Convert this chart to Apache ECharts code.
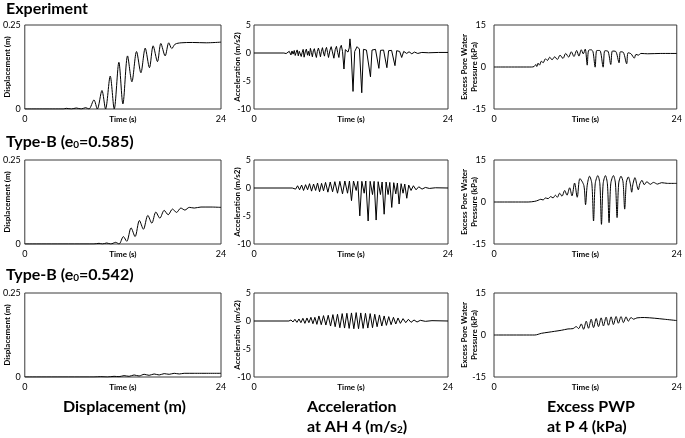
<!DOCTYPE html>
<html><head><meta charset="utf-8">
<script src="https://cdn.jsdelivr.net/npm/echarts@6/dist/echarts.min.js"></script>
<style>html,body{margin:0;padding:0;background:#fff}#c{width:685px;height:438px}</style>
</head><body><div id="c"></div>
<script>
// ---- tick ranges ----
const timeRange = [0, 24];
const dispRange = [0, 0.25];
const accRange = [-10, 5];
const pwpRange = [-15, 15];

// ---- row / column labels ----
const rowTitles = ['Experiment', 'Type-B (e|0|=0.585)', 'Type-B (e|0|=0.542)'];
const colTitles = ['Displacement (m)', 'Acceleration|at AH 4 (m/s|2|)', 'Excess PWP|at P 4 (kPa)'];
const yNames = ['Displacement (m)', 'Acceleration (m/s2)', 'Excess Pore Water\nPressure (kPa)'];
const xName = 'Time (s)';

// ---- data: [time (s), value] ----
const expDisp = [[0,0],[4.7,0],[5.08,0.002],[5.7,0],[6.3,0.003],[6.9,0],[7.44,0.004],[7.85,0],[8.46,0.027],[8.87,0],[9.44,0.055],[9.88,0],[10.45,0.098],[10.94,0],[11.51,0.139],[12.0,0.015],[12.57,0.158],[13.1,0.081],[13.67,0.171],[14.2,0.108],[14.73,0.181],[15.25,0.123],[15.7,0.188],[16.23,0.141],[16.64,0.195],[17.17,0.158],[17.61,0.197],[17.98,0.18],[18.39,0.193],[19.12,0.197],[20.5,0.198],[22.2,0.197],[24,0.199]];
const expAcc = [[0,0],[3.7,0],[3.86,0.12],[3.98,-0.1],[4.1,0.22],[4.22,-0.18],[4.36,0.3],[4.48,-0.05],[4.57,-0.35],[4.7,0.36],[4.84,-0.2],[4.98,0.45],[5.1,-0.44],[5.22,0.1],[5.34,0.55],[5.48,-0.5],[5.6,0.3],[5.72,0.62],[5.84,-0.62],[5.96,0.1],[6.08,0.65],[6.2,-0.75],[6.34,0.2],[6.48,0.7],[6.62,-0.4],[6.73,0.3],[6.86,-0.5],[6.98,0.83],[7.1,0.1],[7.22,-0.68],[7.34,0.4],[7.47,0.77],[7.6,-0.2],[7.72,-0.8],[7.84,0.3],[7.97,0.89],[8.1,0.2],[8.22,-0.68],[8.34,0.3],[8.47,0.95],[8.6,0.0],[8.72,-0.56],[8.85,0.6],[8.97,1.0],[9.1,0.1],[9.22,-0.8],[9.4,0.5],[9.55,1.13],[9.7,0.2],[9.88,-0.93],[10.05,0.6],[10.2,1.19],[10.35,0.1],[10.5,-0.8],[10.65,0.9],[10.8,1.37],[10.95,0.3],[11.13,-2.86],[11.3,0.6],[11.45,0.3],[11.63,0.16],[11.78,0.9],[11.87,2.52],[12.0,0.59],[12.25,-6.86],[12.46,0.28],[12.75,1.13],[13.04,0.71],[13.33,-7.1],[13.54,0.65],[13.91,0.53],[14.41,-4.25],[14.6,0.53],[15.03,0.65],[15.45,-2.74],[15.65,0.47],[16.03,0.53],[16.44,-2.62],[16.65,0.41],[17.02,0.47],[17.44,-2.26],[17.65,0.41],[18.02,0.28],[18.27,-0.8],[18.52,0.28],[18.89,-0.08],[19.18,0.22],[19.52,-0.14],[19.85,0.16],[20.26,-0.08],[20.76,0.1],[21.6,0.04],[22.84,0.1],[24,0.1]];
const expPwp = [[0,0],[4.92,0],[5.27,0.18],[5.49,0.9],[5.62,0.18],[5.79,1.37],[5.97,0.66],[6.23,2.09],[6.45,1.5],[6.75,2.93],[7.01,2.33],[7.32,3.5],[7.62,2.57],[7.97,3.64],[8.32,2.69],[8.67,4.24],[9.06,3.05],[9.41,4.84],[9.8,3.53],[10.15,5.44],[10.5,3.76],[10.85,5.9],[11.15,3.9],[11.46,6.15],[11.72,4.7],[11.98,6.4],[12.24,0.66],[12.41,5.9],[12.76,6.15],[13.0,5.4],[13.28,-0.06],[13.5,5.9],[13.89,5.9],[14.33,-0.06],[14.55,5.8],[14.94,5.7],[15.33,0.9],[15.55,5.7],[15.98,5.56],[16.42,1.5],[16.6,5.44],[16.99,5.2],[17.42,1.14],[17.6,5.08],[17.99,4.72],[18.42,3.17],[18.64,4.5],[18.95,4.24],[19.3,4.84],[20.17,4.72],[21.9,4.84],[24,4.84]];

const b585Disp = [[0,0],[8.46,0],[9.08,0.002],[9.49,0],[10.02,0.003],[10.51,0],[11.12,0.005],[11.53,0],[12.06,0.022],[12.47,0.008],[13.0,0.048],[13.49,0.022],[14.02,0.07],[14.51,0.044],[15.05,0.085],[15.54,0.062],[16.03,0.095],[16.52,0.077],[17.05,0.1],[17.54,0.087],[18.07,0.104],[18.56,0.094],[19.09,0.107],[19.58,0.101],[20.12,0.109],[20.73,0.107],[21.55,0.11],[22.77,0.11],[24,0.109]];
const b585Acc = [[0,0],[4.73,0],[4.94,0.28],[5.15,-0.2],[5.39,0.4],[5.64,-0.32],[5.89,0.53],[6.13,-0.44],[6.38,0.59],[6.63,-0.32],[6.87,0.77],[7.12,-0.56],[7.37,0.71],[7.62,-0.44],[7.86,0.89],[8.11,-0.68],[8.36,0.83],[8.6,-0.5],[8.85,1.0],[9.14,-0.74],[9.43,1.07],[9.72,-0.68],[10.0,1.13],[10.33,-0.93],[10.62,1.19],[10.95,-1.05],[11.24,1.25],[11.57,-0.93],[11.81,1.25],[12.06,-2.26],[12.31,1.25],[12.64,-0.44],[12.84,1.19],[13.09,-4.98],[13.34,1.19],[13.63,-0.93],[13.83,1.25],[14.12,-5.89],[14.37,1.19],[14.66,-1.17],[14.86,1.19],[15.11,-5.72],[15.36,1.13],[15.64,-1.17],[15.85,1.07],[16.1,-4.68],[16.34,1.07],[16.59,-1.17],[16.8,1.0],[17.04,-3.47],[17.29,0.95],[17.54,-1.05],[17.74,0.89],[17.95,-2.86],[18.2,0.77],[18.44,-0.93],[18.65,0.71],[18.9,-1.83],[19.14,0.53],[19.43,-0.44],[19.72,0.4],[20.05,-0.32],[20.38,0.22],[20.79,-0.2],[21.2,0.1],[21.7,-0.08],[22.44,0.04],[24,0]];
const b585Pwp = [[0,0],[4.49,0],[5.36,0.24],[5.79,0.6],[6.14,0.97],[6.45,0.73],[6.75,1.45],[7.1,1.21],[7.45,1.94],[7.75,1.45],[8.06,2.42],[8.32,1.7],[8.62,3.15],[8.93,2.06],[9.28,4.11],[9.58,2.42],[9.93,5.08],[10.24,2.18],[10.58,6.78],[10.93,1.7],[11.28,8.35],[11.8,5.9],[12.02,-0.97],[12.24,6.0],[12.54,9.2],[12.85,6.5],[13.07,-6.78],[13.29,6.5],[13.63,9.44],[13.9,6.5],[14.11,-7.99],[14.33,6.5],[14.63,9.44],[14.89,6.5],[15.11,-7.38],[15.33,6.5],[15.68,9.44],[15.94,6.8],[16.16,-5.57],[16.38,6.8],[16.68,9.2],[16.94,7.2],[17.16,-2.54],[17.38,7.0],[17.64,8.95],[17.9,6.5],[18.08,3.5],[18.25,6.5],[18.51,8.7],[18.77,5.9],[18.95,4.36],[19.15,6.5],[19.43,7.74],[19.73,6.17],[20.08,7.26],[20.51,6.3],[20.95,7.0],[21.47,6.4],[22.0,6.9],[22.78,6.65],[24,6.65]];

const b542Disp = [[0,0],[8.46,0],[9.28,0.001],[10.1,0],[10.92,0.002],[11.53,0.001],[12.14,0.004],[12.76,0.002],[13.37,0.006],[13.98,0.003],[14.6,0.008],[15.21,0.005],[15.82,0.009],[16.44,0.006],[17.05,0.01],[17.66,0.008],[18.28,0.011],[18.89,0.009],[19.5,0.011],[20.73,0.011],[24,0.011]];
const b542Acc = [[0,0],[4.32,0],[4.57,0.18],[4.82,-0.18],[5.06,0.3],[5.31,-0.24],[5.56,0.36],[5.8,-0.3],[6.05,0.48],[6.3,-0.42],[6.55,0.54],[6.79,-0.3],[7.04,0.66],[7.29,-0.48],[7.53,0.66],[7.78,-0.6],[8.03,0.9],[8.32,-0.66],[8.6,0.96],[8.89,-0.72],[9.18,1.02],[9.47,-0.9],[9.76,1.14],[10.04,-1.02],[10.33,1.2],[10.62,-1.2],[10.91,1.32],[11.2,-1.26],[11.49,1.38],[11.77,-1.32],[12.06,1.44],[12.35,-1.38],[12.64,1.5],[12.93,-1.38],[13.21,1.44],[13.5,-1.32],[13.79,1.38],[14.08,-1.26],[14.37,1.32],[14.66,-1.2],[14.94,1.2],[15.23,-1.02],[15.52,1.08],[15.81,-0.9],[16.1,0.9],[16.38,-0.78],[16.67,0.78],[16.96,-0.66],[17.25,0.66],[17.54,-0.54],[17.82,0.54],[18.11,-0.42],[18.44,0.42],[18.77,-0.3],[19.1,0.3],[19.43,-0.24],[19.8,0.18],[20.17,-0.18],[20.58,0.12],[21.2,-0.06],[22.02,0.06],[24,0]];
const b542Pwp = [[0,0],[5.36,0],[6.23,0.6],[7.1,0.96],[7.97,1.32],[8.84,1.68],[9.71,2.16],[10.37,2.28],[10.8,3.0],[11.11,2.28],[11.46,3.96],[11.76,2.04],[12.11,4.92],[12.41,2.4],[12.76,5.64],[13.07,2.64],[13.42,5.88],[13.72,3.0],[14.07,6.12],[14.37,3.24],[14.72,6.36],[15.03,3.48],[15.38,6.48],[15.68,3.72],[16.03,6.6],[16.33,4.2],[16.68,6.6],[16.99,4.44],[17.34,6.48],[17.64,4.92],[17.99,6.24],[18.34,5.64],[18.77,6.12],[19.73,6.24],[21.04,6.0],[22.34,5.64],[24,5.16]];

const panels = [
  [expDisp, expAcc, expPwp],
  [b585Disp, b585Acc, b585Pwp],
  [b542Disp, b542Acc, b542Pwp]
];
const yRanges = [dispRange, accRange, pwpRange];
const yIntervals = [0.25, 5, 15];

// ---- layout ----
const colLeft = [24, 254, 494];
const colWidth = [197, 194, 184];
const rowTop = [25, 160, 293];
const rowHeight = 84;
const yNameGap = [12, 11, 14];
const yLabelMargin = [4, 3, 8];
const FONT = 'Lato';

const grids = [], xAxes = [], yAxes = [], series = [];
let idx = 0;
for (let r = 0; r < 3; r++) {
  for (let c = 0; c < 3; c++) {
    grids.push({left: colLeft[c], top: rowTop[r], width: colWidth[c], height: rowHeight,
      show: true, borderColor: '#3a3a3a', borderWidth: 1, backgroundColor: 'transparent', containLabel: false});
    xAxes.push({type: 'value', gridIndex: idx, min: timeRange[0], max: timeRange[1], interval: 24,
      axisLine: {show: false}, axisTick: {show: false}, splitLine: {show: false},
      axisLabel: {fontSize: 9, color: '#000', fontFamily: FONT, margin: 6},
      name: xName, nameLocation: 'middle', nameGap: 6, nameMoveOverlap: false,
      nameTextStyle: {fontSize: 8, color: '#000', fontFamily: FONT, fontWeight: 'bold', verticalAlign: 'top'}});
    yAxes.push({type: 'value', gridIndex: idx, min: yRanges[c][0], max: yRanges[c][1], interval: yIntervals[c],
      axisLine: {show: false}, axisTick: {show: false}, splitLine: {show: false},
      axisLabel: {fontSize: 9, color: '#000', fontFamily: FONT, margin: yLabelMargin[c]},
      name: yNames[c], nameLocation: 'middle', nameGap: yNameGap[c], nameRotate: 90, nameMoveOverlap: false,
      nameTextStyle: {fontSize: 8, color: '#000', fontFamily: FONT, fontWeight: 'bold', lineHeight: 10.5, verticalAlign: 'bottom'}});
    series.push({type: 'line', xAxisIndex: idx, yAxisIndex: idx, data: panels[r][c],
      showSymbol: false, smooth: c === 1 ? false : 0.3, lineStyle: {color: '#000', width: 1}, silent: true});
    idx++;
  }
}

function richText(s) {
  return s.split('|').map((p, i) => i % 2 ? '{s|' + p + '}' : '{a|' + p + '}').join('');
}

const graphics = [];
const rowTitleY = [1, 134, 267];
rowTitles.forEach((t, i) => {
  graphics.push({type: 'text', left: 6, top: rowTitleY[i], style: {
    text: richText(t), fontFamily: FONT,
    rich: {a: {fontSize: 16, fontWeight: 'bold', fontFamily: FONT, lineHeight: 19, verticalAlign: 'bottom', fill: '#000'},
           s: {fontSize: 10, fontWeight: 'bold', fontFamily: FONT, lineHeight: 12, verticalAlign: 'bottom', fill: '#000'}}
  }});
});
const colTitleX = [63, 307, 547];
colTitles.forEach((t, i) => {
  let txt;
  const parts = t.split('|');
  if (i === 0) txt = '{a|' + parts[0] + '}';
  else if (i === 1) txt = '{a|' + parts[0] + '}\n{a|' + parts[1] + '}{s|' + parts[2] + '}{a|' + parts[3] + '}';
  else txt = '{a|' + parts[0] + '}\n{a|' + parts[1] + '}';
  graphics.push({type: 'text', left: colTitleX[i], top: 399, style: {
    text: txt, fontFamily: FONT,
    rich: {a: {fontSize: 16, fontWeight: 'bold', fontFamily: FONT, lineHeight: 20, verticalAlign: 'bottom', fill: '#000'},
           s: {fontSize: 10, fontWeight: 'bold', fontFamily: FONT, lineHeight: 12, verticalAlign: 'bottom', fill: '#000'}}
  }});
});

const chart = echarts.init(document.getElementById('c'), null, {renderer: 'canvas'});
chart.setOption({
  animation: false,
  backgroundColor: '#fff',
  grid: grids, xAxis: xAxes, yAxis: yAxes, series: series,
  graphic: graphics
});
</script>
</body></html>
